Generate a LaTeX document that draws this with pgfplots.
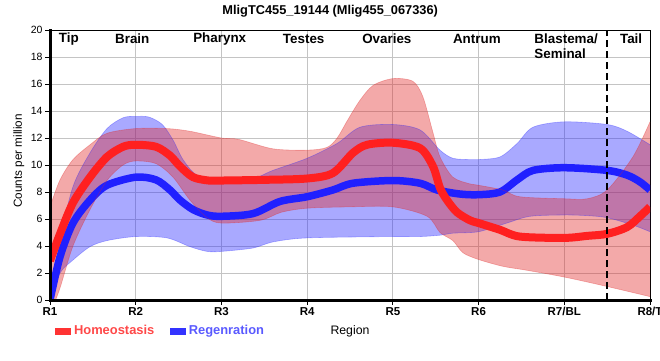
\documentclass[border=0pt]{standalone}
\usepackage{fontspec}
\setmainfont{Liberation Sans}
\usepackage{pgfplots}
\pgfplotsset{compat=1.18}
\usepackage{pgfplotstable}
\usepgfplotslibrary{fillbetween}

\definecolor{hred}{HTML}{FF2020}
\definecolor{hblue}{HTML}{2020FF}
\definecolor{bandred}{HTML}{E02828}
\definecolor{bandblue}{HTML}{2828FF}
\definecolor{gridgray}{HTML}{C4C4C4}
\definecolor{legred}{HTML}{FF4848}
\definecolor{legblue}{HTML}{5A5AFF}
\definecolor{swred}{HTML}{FF3333}
\definecolor{swblue}{HTML}{3333FF}

% Homeostasis mean
\pgfplotstableread{
x y
0 2.9
0.117 4.9
0.268 7.2
0.467 9.1
0.665 10.6
0.852 11.35
1.0 11.5
1.237 11.35
1.4 10.7
1.517 9.9
1.668 9.1
1.85 8.85
2.0 8.85
2.5 8.9
3.0 9.0
3.3 9.4
3.535 10.9
3.70 11.5
4.0 11.65
4.317 11.25
4.468 9.9
4.55 8.3
4.632 7.4
4.748 6.5
4.9 5.9
5.0 5.7
5.25 5.2
5.48 4.7
6.0 4.6
6.267 4.75
6.5 4.9
6.733 5.4
6.883 6.2
7.0 6.9
}\homeline
\pgfplotstableread{
x y
0 6.9
0.117 8.9
0.268 10.4
0.467 11.5
0.665 12.35
1.0 12.7
1.365 12.7
1.633 12.5
2.0 12.0
2.2 11.9
2.6 11.2
3.0 11.1
3.23 11.3
3.35 12.0
3.47 13.3
3.617 14.8
3.77 15.9
4.0 16.4
4.233 16.2
4.35 15.06
4.468 12.4
4.55 10.6
4.70 9.1
4.9 8.6
5.0 8.5
5.28 8.15
5.48 7.65
6.0 7.5
6.267 7.5
6.5 8.15
6.8 10.6
7.0 13.2
}\homeup
\pgfplotstableread{
x y
0 -1.1
0.117 0.9
0.268 4.0
0.467 6.7
0.665 8.85
0.852 10.0
1.0 10.3
1.237 10.1
1.435 9.1
1.633 7.4
1.832 6.1
2.0 5.7
2.45 5.9
2.7 6.5
3.0 6.8
3.5 6.9
4.0 6.9
4.4 6.2
4.55 5.0
4.70 4.4
4.818 3.5
5.0 3.0
5.28 2.5
5.565 2.2
6.0 1.7
6.5 1.0
7.0 0.25
}\homelow
% Regeneration mean
\pgfplotstableread{
x y
0 0.0
0.117 3.2
0.268 5.7
0.467 7.4
0.665 8.5
1.0 9.1
1.237 8.9
1.4 8.15
1.517 7.4
1.668 6.7
1.832 6.3
2.0 6.2
2.368 6.4
2.683 7.3
3.0 7.65
3.30 8.15
3.535 8.65
4.0 8.85
4.317 8.65
4.515 8.15
4.783 7.85
5.0 7.8
5.25 8.0
5.45 8.9
5.635 9.6
6.0 9.8
6.5 9.6
6.733 9.25
6.883 8.75
7.0 8.15
}\regline
\pgfplotstableread{
x y
0 0
0.117 4.4
0.268 8.4
0.467 10.9
0.665 12.7
0.852 13.5
1.0 13.6
1.155 13.55
1.31 13.0
1.435 11.85
1.552 10.4
1.715 9.25
2.0 8.9
2.368 9.0
2.6 9.6
3.0 10.5
3.35 11.6
3.617 12.8
4.0 13.0
4.317 12.6
4.55 11.1
4.70 10.5
4.9 10.4
5.0 10.4
5.25 10.6
5.45 11.6
5.635 12.8
6.0 13.2
6.5 13.0
6.733 12.5
7.0 11.5
}\regup
\pgfplotstableread{
x y
0 0
0.117 2.0
0.268 2.96
0.467 3.95
0.665 4.4
1.0 4.7
1.365 4.6
1.633 3.95
1.832 3.6
2.0 3.6
2.368 3.85
2.6 4.3
3.0 4.6
4.0 4.7
4.317 4.7
4.55 4.8
4.70 4.95
5.0 5.06
5.33 5.7
5.6 6.2
6.0 6.3
6.267 6.25
6.5 6.1
6.8 5.55
7.0 5.06
}\reglow

\begin{document}
\begin{tikzpicture}
\begin{axis}[
  at={(50pt,60pt)}, anchor=south west,
  scale only axis, width=600pt, height=270pt,
  xmin=0, xmax=7, ymin=0, ymax=20,
  xtick={0,1,2,3,4,5,6,7},
  xticklabels={R1,R2,R3,R4,R5,R6,R7/BL,R8/T},
  ytick={0,2,...,20},
  grid=major,
  major grid style={gridgray, line width=0.8pt},
  tick align=outside, major tick length=5pt, tick pos=left,
  tick style={black, line width=0.8pt},
  axis line style={black, line width=0.8pt},
  /pgf/number format/assume math mode=true,
  xticklabel style={font=\fontsize{11.5}{12}\selectfont\bfseries, yshift=1pt},
  yticklabel style={font=\fontsize{10.5}{11}\selectfont, xshift=1pt},
  every axis title shift=0pt,
  title={\textbf{MligTC455\_19144 (Mlig455\_067336)}},
  title style={font=\fontsize{12.8}{14}\selectfont, at={(axis description cs:0.467,1.071)}, anchor=center, yshift=0pt},
  xlabel={Region},
  xlabel style={font=\fontsize{12.3}{14}\selectfont, at={(axis description cs:0.5,-0.115)}, anchor=center},
  ylabel={Counts per million},
  ylabel style={font=\fontsize{11.7}{13}\selectfont, at={(axis description cs:-0.052,0.515)}, anchor=center, rotate=0},
  legend columns=2,
  legend style={at={(axis description cs:0.0083,-0.115)}, anchor=west, draw=none, fill=none,
    font=\fontsize{12.9}{14}\selectfont\bfseries, inner sep=0pt,
    nodes={inner sep=1.5pt},
    /tikz/every even column/.append style={column sep=14pt}},
  legend cell align=left,
  after end axis/.code={
    \draw[black, line width=3pt, line cap=rect] (rel axis cs:0,1) -- (rel axis cs:0,0) -- (rel axis cs:1,0);
  },
]
\addlegendimage{legend image code/.code={\fill[swred] (0pt,-3pt) rectangle (15pt,3pt);}}
\addlegendentry{\hspace{2pt}\textcolor{legred}{Homeostasis}}
\addlegendimage{legend image code/.code={\fill[swblue] (0pt,-3pt) rectangle (15pt,3pt);}}
\addlegendentry{\hspace{2pt}\textcolor{legblue}{Regenration}}

% Regeneration band
\addplot[forget plot, smooth, bandblue, draw opacity=0.35, line width=0.6pt, name path=bu] table {\regup};
\addplot[forget plot, smooth, bandblue, draw opacity=0.35, line width=0.6pt, name path=bl] table {\reglow};
\addplot[forget plot, fill=bandblue, fill opacity=0.4, draw=none] fill between[of=bu and bl];
\addplot[forget plot, smooth, hblue, line width=7.5pt] table {\regline};

% Homeostasis band
\addplot[forget plot, smooth, bandred, draw opacity=0.35, line width=0.6pt, name path=ru] table {\homeup};
\addplot[forget plot, smooth, bandred, draw opacity=0.35, line width=0.6pt, name path=rl] table {\homelow};
\addplot[forget plot, fill=bandred, fill opacity=0.4, draw=none] fill between[of=ru and rl];
\addplot[forget plot, smooth, hred, line width=8pt] table {\homeline};

% boundary
\addplot[forget plot, black, line width=2.5pt, dash pattern=on 7pt off 4pt] coordinates {(6.5,0) (6.5,20)};

% region labels
\node[font=\fontsize{13.4}{15}\selectfont\bfseries] at (axis cs:0.22,19.33) {Tip};
\node[font=\fontsize{13.4}{15}\selectfont\bfseries] at (axis cs:0.96,19.33) {Brain};
\node[font=\fontsize{13.4}{15}\selectfont\bfseries] at (axis cs:1.98,19.33) {Pharynx};
\node[font=\fontsize{13.4}{15}\selectfont\bfseries] at (axis cs:2.96,19.33) {Testes};
\node[font=\fontsize{13.4}{15}\selectfont\bfseries] at (axis cs:3.93,19.33) {Ovaries};
\node[font=\fontsize{13.4}{15}\selectfont\bfseries] at (axis cs:4.98,19.33) {Antrum};
\node[font=\fontsize{13.4}{15}\selectfont\bfseries, align=left, anchor=north west, inner sep=0pt] at (axis cs:5.65,19.75) {Blastema/\\Seminal};
\node[font=\fontsize{13.4}{15}\selectfont\bfseries] at (axis cs:6.78,19.33) {Tail};
\end{axis}
\pgfresetboundingbox
\path[use as bounding box] (0pt,0pt) rectangle (660pt,360pt);
\end{tikzpicture}
\end{document}
